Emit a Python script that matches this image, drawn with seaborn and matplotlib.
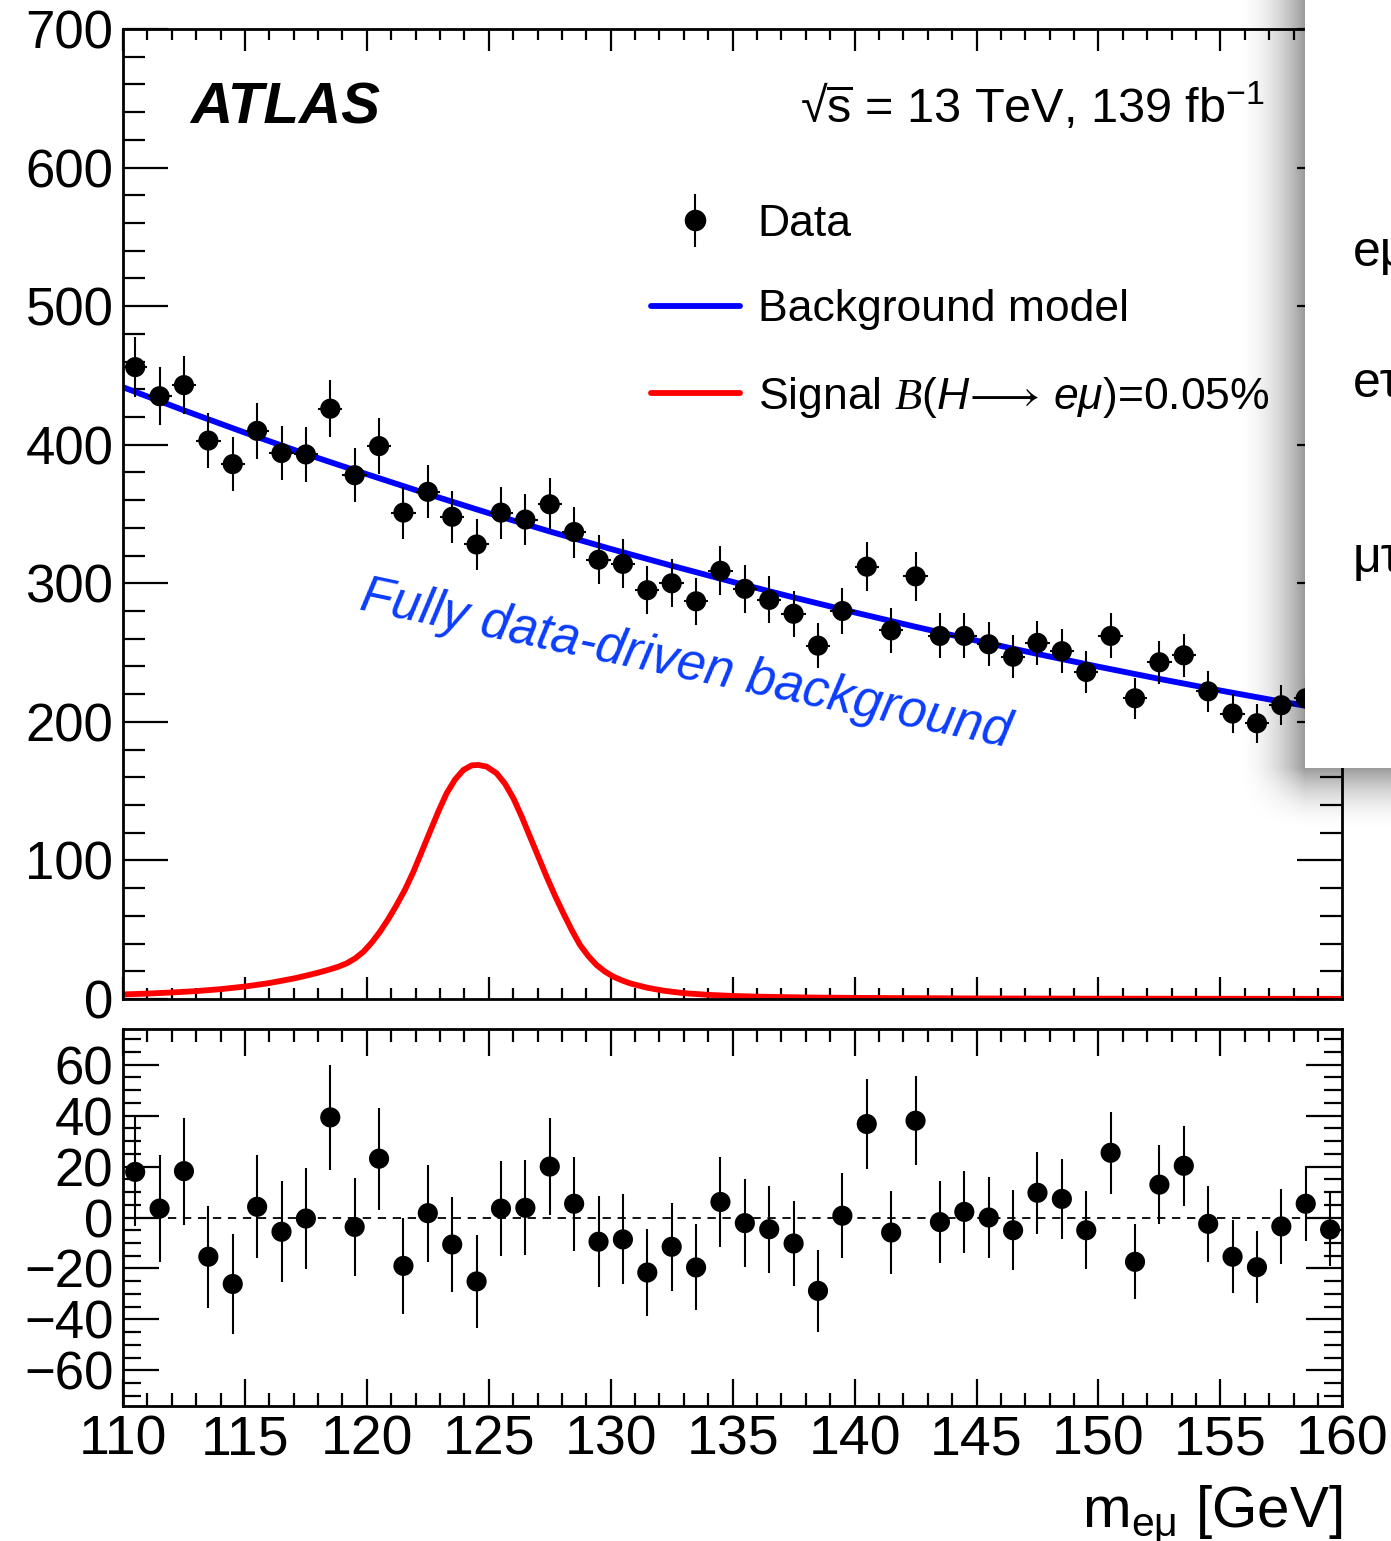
import numpy as np
import matplotlib
matplotlib.use("Agg")
import matplotlib.pyplot as plt
import seaborn as sns
from matplotlib.lines import Line2D
from matplotlib.patches import Rectangle
from matplotlib.legend_handler import HandlerErrorbar
from matplotlib.container import ErrorbarContainer
from matplotlib.ticker import MultipleLocator

# ---------------- data ----------------
bin_centers = list(np.arange(110.5, 160.0, 1.0))

data_counts = [456, 435, 443, 403, 386, 410, 394, 393, 426, 378,
               399, 351, 366, 348, 328, 351, 346, 357, 337, 317,
               314, 295, 300, 287, 309, 296, 288, 278, 255, 280,
               312, 266, 305, 262, 262, 256, 247, 257, 251, 236,
               262, 217, 243, 248, 222, 206, 199, 212, 217, 204]

data_errors = [21.4, 20.9, 21.0, 20.1, 19.6, 20.2, 19.8, 19.8, 20.6, 19.4,
               20.0, 18.7, 19.1, 18.7, 18.1, 18.7, 18.6, 18.9, 18.4, 17.8,
               17.7, 17.2, 17.3, 16.9, 17.6, 17.2, 17.0, 16.7, 16.0, 16.7,
               17.7, 16.3, 17.5, 16.2, 16.2, 16.0, 15.7, 16.0, 15.8, 15.4,
               16.2, 14.7, 15.6, 15.7, 14.9, 14.4, 14.1, 14.6, 14.7, 14.3]

residuals = [17.9, 3.5, 18.2, -15.4, -26.1, 4.2, -5.6, -0.4, 39.3, -3.7,
             23.1, -19.0, 1.7, -10.6, -25.1, 3.5, 3.8, 20.0, 5.4, -9.5,
             -8.6, -21.6, -11.5, -19.6, 6.1, -2.2, -4.6, -10.2, -28.8, 0.7,
             36.7, -5.9, 38.0, -1.8, 2.2, 0.0, -5.0, 9.7, 7.3, -5.0,
             25.4, -17.4, 12.9, 20.3, -2.5, -15.4, -19.5, -3.5, 5.4, -4.7]

bkg_mass = [110, 112.5, 115, 117.5, 120, 122.5, 125, 127.5, 130, 132.5, 135,
            137.5, 140, 142.5, 145, 147.5, 150, 152.5, 155, 157.5, 160]
bkg_model = [441.5, 424.8, 408.7, 393.3, 378.7, 364.4, 350.6, 337.4, 324.8,
             312.7, 301.0, 289.8, 279.0, 268.6, 258.6, 249.0, 239.8, 231.0,
             222.6, 214.6, 207.0]

sig_mass = [110, 111, 112, 113, 114, 115, 116, 117, 117.5, 118, 118.49,
            118.83, 119.17, 119.52, 119.86, 120.20, 120.54, 120.88, 121.22,
            121.57, 121.91, 122.25, 122.59, 122.93, 123.27, 123.62, 123.96,
            124.30, 124.57, 124.91, 125.32, 125.67, 126.01, 126.35, 126.69,
            127.03, 127.37, 127.72, 128.06, 128.40, 128.74, 129.08, 129.42,
            129.77, 130.11, 130.45, 130.79, 131.48, 132.16, 133, 134, 135,
            136, 138, 140, 145, 150, 160]
sig_model = [3.3, 3.9, 4.7, 5.7, 7.1, 9.0, 11.5, 14.8, 16.8, 19.0, 21.4,
             23.3, 25.7, 29.3, 34.1, 40.7, 48.6, 57.7, 67.8,
             79.1, 91.9, 106.3, 120.8, 135.2, 148.4, 158.5, 165.3,
             168.6, 168.9, 167.7, 162.9, 155.2, 144.8, 131.6, 117.1,
             102.7, 88.3, 74.3, 61.8, 49.8, 39.0, 31.0, 24.5,
             19.7, 16.1, 13.5, 11.3, 8.2, 6.0, 4.2, 3.0, 2.2,
             1.7, 1.1, 0.8, 0.4, 0.25, 0.1]

legend_labels = ["Data", "Background model",
                 r"Signal $\mathcal{B}(H\!\longrightarrow\,e\mu)$=0.05%"]
side_labels = ["eμ", "eτ", "μτ"]

# ---------------- style ----------------
sns.set_theme(style="ticks")
plt.rcParams["font.family"] = ["Liberation Sans", "DejaVu Sans"]
plt.rcParams["mathtext.fontset"] = "custom"
plt.rcParams["mathtext.rm"] = "Liberation Sans"
plt.rcParams["mathtext.it"] = "Liberation Sans:italic"
plt.rcParams["mathtext.bf"] = "Liberation Sans:bold"
plt.rcParams["mathtext.sf"] = "Liberation Sans"
plt.rcParams["mathtext.cal"] = "Liberation Serif:italic"
plt.rcParams["mathtext.fallback"] = "stix"
plt.rcParams["axes.edgecolor"] = "black"
plt.rcParams["xtick.color"] = "black"
plt.rcParams["ytick.color"] = "black"
plt.rcParams["text.color"] = "black"
plt.rcParams["axes.labelcolor"] = "black"

W, H = 1391, 1541
fig = plt.figure(figsize=(W / 100, H / 100), dpi=100)
fig.patch.set_facecolor("white")

ax1 = fig.add_axes([123 / W, 1 - 999 / H, 1219.3 / W, 970 / H])
ax2 = fig.add_axes([123 / W, 1 - 1406 / H, 1219.3 / W, 377 / H])

# ---------------- upper panel ----------------
sns.lineplot(x=bkg_mass, y=bkg_model, ax=ax1, color="#0000ff", lw=4.2, zorder=2)
sns.lineplot(x=sig_mass, y=sig_model, ax=ax1, color="#ff0000", lw=4.2, zorder=2)
ax1.errorbar(bin_centers, data_counts, yerr=data_errors, xerr=0.5, fmt="none",
             ecolor="black", elinewidth=1.5, capsize=0, zorder=3)
sns.scatterplot(x=bin_centers, y=data_counts, ax=ax1, color="black",
                s=14.5 ** 2, edgecolor="none", zorder=4, legend=False)

ax1.set_xlim(110, 160)
ax1.set_ylim(0, 700)
ax1.xaxis.set_major_locator(MultipleLocator(5))
ax1.xaxis.set_minor_locator(MultipleLocator(1))
ax1.yaxis.set_major_locator(MultipleLocator(100))
ax1.yaxis.set_minor_locator(MultipleLocator(20))
ax1.tick_params(which="both", direction="in", top=True, right=True,
                bottom=True, left=True, width=1.6)
ax1.tick_params(axis="x", which="major", length=15.8, labelbottom=False)
ax1.tick_params(axis="x", which="minor", length=7.9)
ax1.tick_params(axis="y", which="major", length=32.4, labelsize=38, pad=7)
ax1.tick_params(axis="y", which="minor", length=16)
ax1.set_xlabel("")
ax1.set_ylabel("")

# legend
h_data = ax1.errorbar([np.nan], [np.nan], yerr=[1], fmt="o", color="black",
                      ms=14.5, elinewidth=1.5, capsize=0)
h_bkg = Line2D([], [], color="#0000ff", lw=4.2)
h_sig = Line2D([], [], color="#ff0000", lw=4.2)
ax1.legend([h_data, h_bkg, h_sig], legend_labels, loc="upper left",
           bbox_to_anchor=(651 / W, 1 - 204 / H), bbox_transform=fig.transFigure,
           frameon=False, fontsize=32, handlelength=2.0, handletextpad=0.4,
           labelspacing=1.0, borderpad=0, borderaxespad=0,
           handler_map={ErrorbarContainer: HandlerErrorbar(yerr_size=0.6)})

# ---------------- lower panel ----------------
ax2.axhline(0, color="black", lw=1.3, ls=(0, (4.6, 3.7)), zorder=1)
ax2.errorbar(bin_centers, residuals, yerr=data_errors, fmt="none",
             ecolor="black", elinewidth=1.5, capsize=0, zorder=3)
sns.scatterplot(x=bin_centers, y=residuals, ax=ax2, color="black",
                s=14.5 ** 2, edgecolor="none", zorder=4, legend=False)
ax2.set_xlim(110, 160)
ax2.set_ylim(-74, 74)
ax2.xaxis.set_major_locator(MultipleLocator(5))
ax2.xaxis.set_minor_locator(MultipleLocator(1))
ax2.yaxis.set_major_locator(MultipleLocator(20))
ax2.yaxis.set_minor_locator(MultipleLocator(5))
ax2.tick_params(which="both", direction="in", top=True, right=True,
                bottom=True, left=True, width=1.6)
ax2.tick_params(axis="x", which="major", length=19.4, labelsize=40, pad=6)
ax2.tick_params(axis="x", which="minor", length=9.4)
ax2.tick_params(axis="y", which="major", length=26, labelsize=38, pad=7)
ax2.tick_params(axis="y", which="minor", length=13)
ax2.set_xlabel("")
ax2.set_ylabel("")

for ax in (ax1, ax2):
    for sp in ax.spines.values():
        sp.set_linewidth(2.0)
        sp.set_color("black")

# ---------------- texts ----------------
fig.text(190 / W, 1 - 123 / H, "ATLAS", fontsize=42, fontweight="bold",
         fontstyle="italic", va="baseline", ha="left")
fig.text(800 / W, 1 - 123 / H, r"√$\overline{\mathrm{s}}$ = 13 TeV, 139 fb$^{\mathrm{-1}}$",
         fontsize=35, va="baseline", ha="left")
fig.text(686 / W, 1 - 665 / H, "Fully data-driven background", fontsize=37,
         fontstyle="italic", color="#0a3cff", rotation=-12,
         rotation_mode="anchor", ha="center", va="center")
fig.text(1342 / W, 1 - 1527 / H, r"m$_{\mathrm{eμ}}$ [GeV]", fontsize=42,
         ha="right", va="baseline")

# ---------------- overlapping side panel with drop shadow ----------------
ov = fig.add_axes([0, 0, 1, 1], zorder=20)
ov.patch.set_alpha(0)
xs = np.arange(1230, W) + 0.5
ys = np.arange(0, 840) + 0.5
dx = np.clip(1305 - xs, 0, None)
dy = np.clip(ys - 768, 0, None)
fxs = np.clip(1 - dx / 70.0, 0, 1) ** 2
fys = np.clip(1 - dy / 65.0, 0, 1) ** 2
alpha = 0.40 * np.outer(fys, fxs)
rgba = np.zeros((len(ys), len(xs), 4))
rgba[..., 3] = alpha
ov.imshow(rgba, extent=[1230, W, 840, 0], interpolation="bilinear",
          aspect="auto", zorder=1)
ov.add_patch(Rectangle((1305, -5), 120, 773, facecolor="white",
                       edgecolor="none", zorder=2))
for lab, yb in zip(side_labels, [266, 397, 572]):
    ov.text(1353, yb, lab, fontsize=36, ha="left", va="baseline", zorder=3)
ov.set_xlim(0, W)
ov.set_ylim(H, 0)
ov.axis("off")

fig.savefig("out.png", dpi=100)
